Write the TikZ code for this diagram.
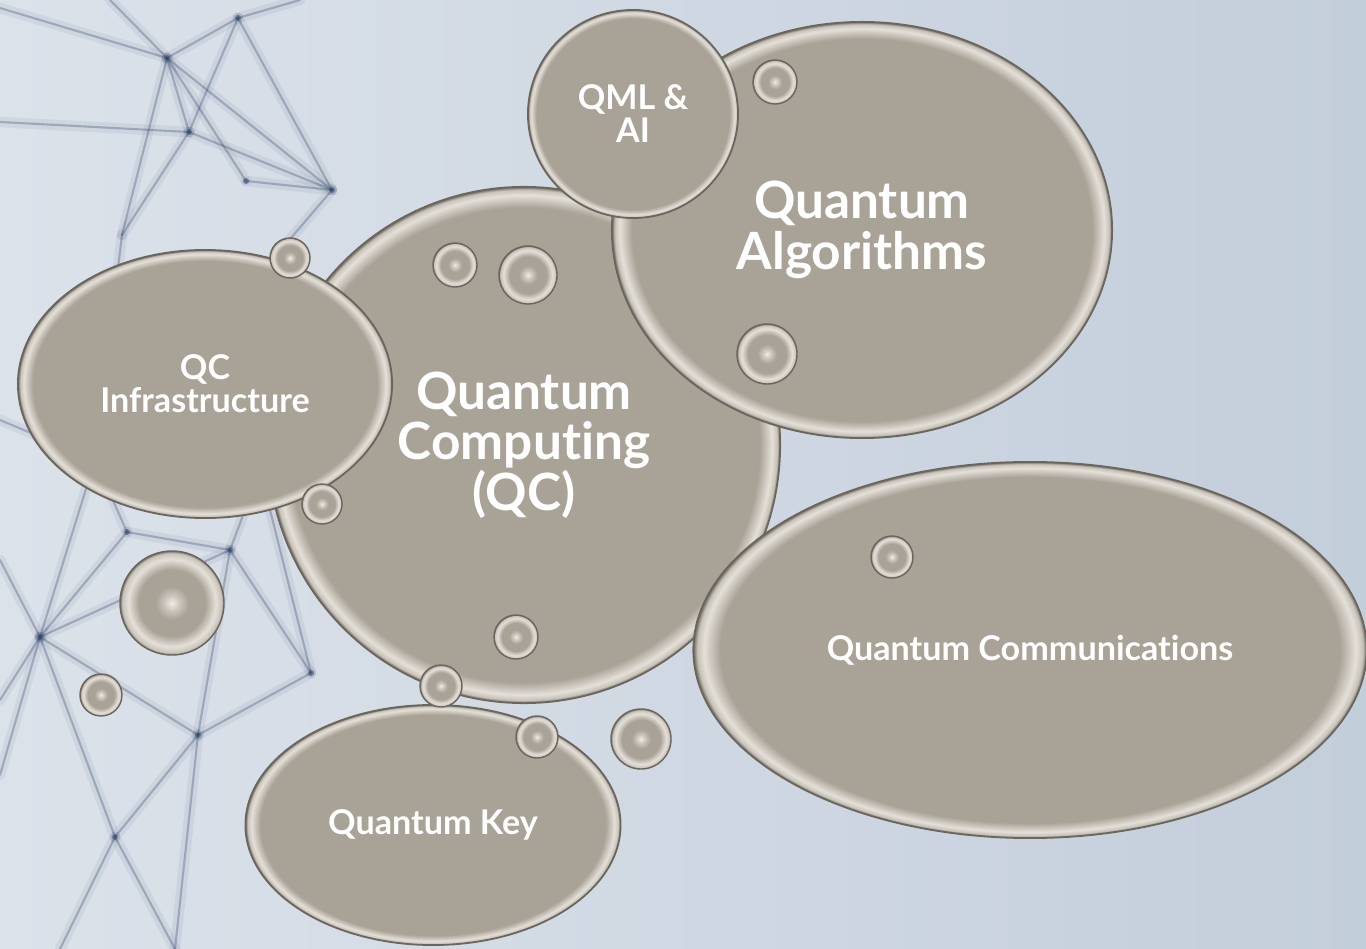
\documentclass[tikz,border=0pt]{standalone}
\usepackage{fontspec}
\setmainfont[Ligatures=NoCommon]{Lato}
\usetikzlibrary{shapes.geometric}

\definecolor{skyleft}{HTML}{DCE2EA}
\definecolor{skyright}{HTML}{C3CEDB}
\definecolor{netline}{HTML}{2E4266}
\definecolor{bubblefill}{HTML}{A9A297}
\definecolor{bubblelight}{HTML}{E4E0D8}
\definecolor{bubblemid}{HTML}{C8C3B9}
\definecolor{bubbledark}{HTML}{6A665E}
\definecolor{beadhi}{HTML}{EFECE6}

\pgfdeclareradialshading{bubblerim}{\pgfpoint{0bp}{0bp}}{%
  color(0bp)=(bubblefill); color(23bp)=(bubblefill);
  color(24.2bp)=(bubblelight); color(24.7bp)=(bubblemid);
  color(25bp)=(bubbledark); color(50bp)=(bubbledark)}
\pgfdeclareradialshading{beadshade}{\pgfpoint{0bp}{0bp}}{%
  color(0bp)=(beadhi); color(4bp)=(bubblemid); color(8bp)=(bubblefill);
  color(16bp)=(bubblefill); color(21bp)=(bubblelight);
  color(24bp)=(bubblemid); color(25bp)=(bubbledark); color(50bp)=(bubbledark)}

\begin{document}
\begin{tikzpicture}[x=0.01cm, y=-0.01cm]
\tikzstyle{bubble}=[ellipse, draw=bubbledark, line width=0.5pt, shading=bubblerim,
  inner sep=0pt, text=white, align=center]
\tikzstyle{bigtext}=[font=\fontsize{14.6}{14.4}\selectfont\bfseries]
\tikzstyle{smalltext}=[font=\fontsize{9.7}{9.4}\selectfont\bfseries]
\tikzstyle{bead}=[circle, draw=bubbledark, line width=0.4pt, shading=beadshade, inner sep=0pt]
\tikzstyle{net}=[netline, line cap=round]

% background
\fill[left color=skyleft, right color=skyright] (0,0) rectangle (1366,949);
\useasboundingbox (0,0) rectangle (1366,949);

% network in the background
\coordinate (n1)  at (167,58);
\coordinate (n2)  at (238,18);
\coordinate (n3)  at (189,132);
\coordinate (n4)  at (246,181);
\coordinate (n5)  at (332,190);
\coordinate (n6)  at (40,637);
\coordinate (n7)  at (230,550);
\coordinate (n8)  at (198,735);
\coordinate (n9)  at (115,837);
\coordinate (n10) at (127,532);
\coordinate (n11) at (311,673);
\coordinate (n12) at (110,0);
\coordinate (n13) at (0,8);
\coordinate (n14) at (0,122);
\coordinate (n15) at (122,235);
\coordinate (n16) at (0,560);
\coordinate (n17) at (0,700);
\coordinate (n18) at (0,775);
\coordinate (n19) at (60,949);
\coordinate (n20) at (175,949);
\coordinate (n21) at (95,460);
\coordinate (n22) at (260,470);
\coordinate (n23) at (0,420);
\coordinate (n24) at (285,245);
\coordinate (n25) at (300,0);
\foreach \a/\b in {n1/n12, n1/n13, n1/n2, n1/n3, n1/n4, n1/n5, n1/n15, n2/n5, n2/n3,
    n2/n25, n14/n3, n3/n5, n4/n5, n5/n24, n3/n15, n15/n21, n21/n23, n21/n10,
    n6/n16, n6/n17, n6/n18, n6/n10, n6/n7, n6/n8, n6/n21, n6/n9, n10/n7, n7/n22,
    n7/n8, n8/n11, n8/n9, n9/n19, n9/n20, n8/n20, n11/n7, n22/n11}
  {\draw[net, line width=3pt, opacity=0.07] (\a) -- (\b);
   \draw[net, line width=0.6pt, opacity=0.3] (\a) -- (\b);}
\foreach \p in {n1, n2, n3, n4, n5, n6, n7, n8, n9, n10, n11}
  \fill[netline, opacity=0.55] (\p) circle (3);

% main bubbles, back to front
\node[bubble, bigtext, minimum width=5.12cm, minimum height=5.16cm] (qc) at (524,445)
  {Quantum\\ Computing\\ (QC)};
\node[bubble, bigtext, minimum width=5.0cm, minimum height=4.16cm] (algo) at (862,230)
  {Quantum\\ Algorithms};
\node[bubble, smalltext, minimum width=2.1cm, minimum height=2.08cm] (qml) at (633,114)
  {QML \&\\ AI};
\node[bubble, smalltext, minimum width=3.74cm, minimum height=2.68cm] (infra) at (205,384)
  {QC\\ Infrastructure};
\node[bubble, smalltext, minimum width=6.73cm, minimum height=3.76cm] (comm) at (1030,650)
  {Quantum Communications};
\node[bubble, smalltext, minimum width=3.75cm, minimum height=2.4cm] (key) at (433,825)
  {Quantum Key};

% small beads
\node[bead, minimum size=0.40cm] (b1)  at (290,258) {};
\node[bead, minimum size=0.44cm] (b2)  at (455,265) {};
\node[bead, minimum size=0.58cm] (b3)  at (528,275) {};
\node[bead, minimum size=0.44cm] (b4)  at (775,82) {};
\node[bead, minimum size=0.60cm] (b5)  at (767,354) {};
\node[bead, minimum size=0.40cm] (b6)  at (322,504) {};
\node[bead, minimum size=1.04cm] (b7)  at (172,603) {};
\node[bead, minimum size=0.44cm] (b8)  at (516,637) {};
\node[bead, minimum size=0.42cm] (b9)  at (101,695) {};
\node[bead, minimum size=0.42cm] (b10) at (441,686) {};
\node[bead, minimum size=0.42cm] (b11) at (537,737) {};
\node[bead, minimum size=0.60cm] (b12) at (641,739) {};
\node[bead, minimum size=0.42cm] (b13) at (892,557) {};
\end{tikzpicture}
\end{document}
